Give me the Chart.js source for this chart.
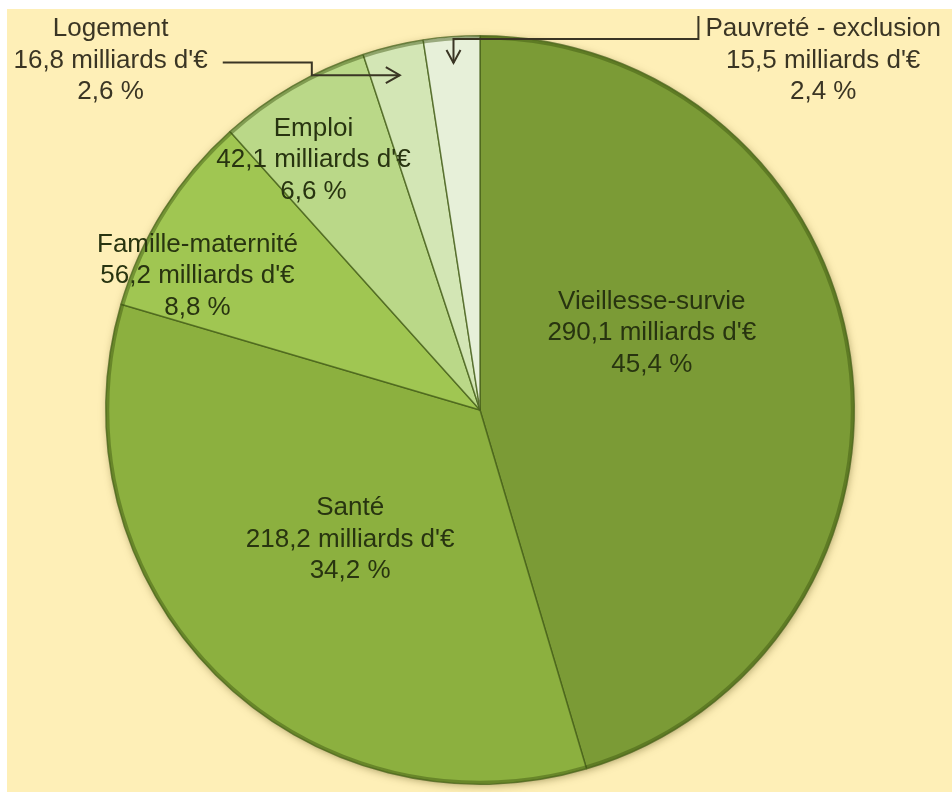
<!DOCTYPE html>
<html>
<head>
<meta charset="utf-8">
<script src="https://cdn.jsdelivr.net/npm/chart.js@4.4.1/dist/chart.umd.min.js"></script>
<style>
    body { margin: 0; background: #ffffff; }
    canvas { display: block; }
</style>
</head>
<body>
<canvas id="protectionChart" width="952" height="792"></canvas>
<script>

// Prestations de protection sociale par risque
var categories = ["Vieillesse-survie", "Santé", "Famille-maternité", "Emploi", "Logement", "Pauvreté - exclusion"];
var montants = [290.1, 218.2, 56.2, 42.1, 16.8, 15.5];   // milliards d'euros
var parts = [45.4, 34.2, 8.8, 6.6, 2.6, 2.4];             // en %

var sliceColors = ["#7b9b36", "#8cb03f", "#a0c652", "#bad888", "#d3e6b5", "#e7f0d9"];

// label placement, as fractions of the radius from the centre (middle line baseline)
var labelPlacement = [
    { dx: 0.459, dy: -0.187, inside: true },
    { dx: -0.347, dy: 0.365, inside: true },
    { dx: -0.755, dy: -0.339, inside: true },
    { dx: -0.445, dy: -0.648, inside: true },
    { dx: -0.987, dy: -0.915, inside: false },
    { dx: 0.917, dy: -0.915, inside: false }
];

var FONT = "26px 'Liberation Sans', Arial, sans-serif";
var LINE_H = 31.5;

function frNumber(v, dec) {
    return v.toFixed(dec).replace(".", ",");
}

var backgroundPlugin = {
    id: "cremeBackground",
    beforeDraw: function (chart) {
        var ctx = chart.ctx;
        ctx.save();
        ctx.fillStyle = "#ffffff";
        ctx.fillRect(0, 0, chart.width, chart.height);
        ctx.fillStyle = "#feefb7";
        ctx.fillRect(7, 9, chart.width - 7, chart.height - 9);
        ctx.restore();
    },
    beforeDatasetsDraw: function (chart) {
        // soft shadow under the pie
        var arc = chart.getDatasetMeta(0).data[0];
        var ctx = chart.ctx;
        ctx.save();
        ctx.beginPath();
        ctx.arc(arc.x, arc.y, arc.outerRadius - 1, 0, Math.PI * 2);
        ctx.shadowColor = "rgba(90, 80, 20, 0.55)";
        ctx.shadowBlur = 8;
        ctx.shadowOffsetX = 1;
        ctx.shadowOffsetY = 2;
        ctx.fillStyle = "#6f8c2c";
        ctx.fill();
        ctx.restore();
    },
    afterDatasetsDraw: function (chart) {
        // darker rim like the bevel of the original
        var arc = chart.getDatasetMeta(0).data[0];
        var ctx = chart.ctx;
        ctx.save();
        ctx.beginPath();
        ctx.arc(arc.x, arc.y, arc.outerRadius - 2, 0, Math.PI * 2);
        ctx.strokeStyle = "rgba(60, 85, 15, 0.45)";
        ctx.lineWidth = 3;
        ctx.stroke();
        ctx.restore();
    }
};

var labelsPlugin = {
    id: "pieLabels",
    afterDraw: function (chart) {
        var ctx = chart.ctx;
        var meta = chart.getDatasetMeta(0);
        var cx = meta.data[0].x;
        var cy = meta.data[0].y;
        var R = meta.data[0].outerRadius;

        ctx.save();
        ctx.font = FONT;
        ctx.textAlign = "center";
        ctx.textBaseline = "alphabetic";

        categories.forEach(function (name, i) {
            var p = labelPlacement[i];
            var x = cx + p.dx * R;
            var yMid = cy + p.dy * R;
            var lines = [name, frNumber(montants[i], 1) + " milliards d'€", frNumber(parts[i], 1) + " %"];
            ctx.fillStyle = p.inside ? "#283410" : "#3a3524";
            lines.forEach(function (txt, k) {
                ctx.fillText(txt, x, yMid + (k - 1) * LINE_H);
            });
        });

        // leader lines for the two small slices
        ctx.strokeStyle = "#3a3524";
        ctx.lineWidth = 2;
        ctx.lineJoin = "miter";

        var tipOf = function (i, frac) {
            var a = meta.data[i];
            var mid = (a.startAngle + a.endAngle) / 2;
            return { x: cx + Math.cos(mid) * R * frac, y: cy + Math.sin(mid) * R * frac };
        };

        // Logement: from right of text, step down, arrow to the right
        var logTip = tipOf(4, 0.92);
        var logX = cx + labelPlacement[4].dx * R;
        var logY = cy + labelPlacement[4].dy * R;
        var w2 = ctx.measureText(lines2(4)).width / 2;
        var sx = logX + w2 + 15;
        var sy = logY - 5;
        ctx.beginPath();
        ctx.moveTo(sx, sy);
        ctx.lineTo(logTip.x - 88, sy);
        ctx.lineTo(logTip.x - 88, logTip.y);
        ctx.lineTo(logTip.x, logTip.y);
        ctx.stroke();
        ctx.beginPath();
        ctx.moveTo(logTip.x - 14, logTip.y - 8);
        ctx.lineTo(logTip.x, logTip.y);
        ctx.lineTo(logTip.x - 14, logTip.y + 8);
        ctx.stroke();

        // Pauvreté: from left of first line, across the top, arrow down
        var pvTip = tipOf(5, 0.93);
        var pvX = cx + labelPlacement[5].dx * R;
        var pvY = cy + labelPlacement[5].dy * R;
        var w1 = ctx.measureText(categories[5]).width / 2;
        var vx = pvX - w1 - 7;
        var topY = pvY - LINE_H - 20;
        var hy = topY + 23;
        ctx.beginPath();
        ctx.moveTo(vx, topY);
        ctx.lineTo(vx, hy);
        ctx.lineTo(pvTip.x, hy);
        ctx.lineTo(pvTip.x, pvTip.y);
        ctx.stroke();
        ctx.beginPath();
        ctx.moveTo(pvTip.x - 7, pvTip.y - 13);
        ctx.lineTo(pvTip.x, pvTip.y);
        ctx.lineTo(pvTip.x + 7, pvTip.y - 13);
        ctx.stroke();

        ctx.restore();

        function lines2(i) {
            return frNumber(montants[i], 1) + " milliards d'€";
        }
    }
};

var ctx = document.getElementById("protectionChart").getContext("2d");
var protectionChart = new Chart(ctx, {
    type: "pie",
    data: {
        labels: categories,
        datasets: [{
            data: montants,
            backgroundColor: sliceColors,
            borderColor: "rgba(70, 95, 25, 0.75)",
            borderWidth: 1.5
        }]
    },
    options: {
        responsive: false,
        animation: false,
        layout: {
            padding: { top: 35, bottom: 7, left: 105, right: 97 }
        },
        plugins: {
            legend: { display: false },
            tooltip: { enabled: false },
            title: { display: false }
        }
    },
    plugins: [backgroundPlugin, labelsPlugin]
});

</script>
</body>
</html>
